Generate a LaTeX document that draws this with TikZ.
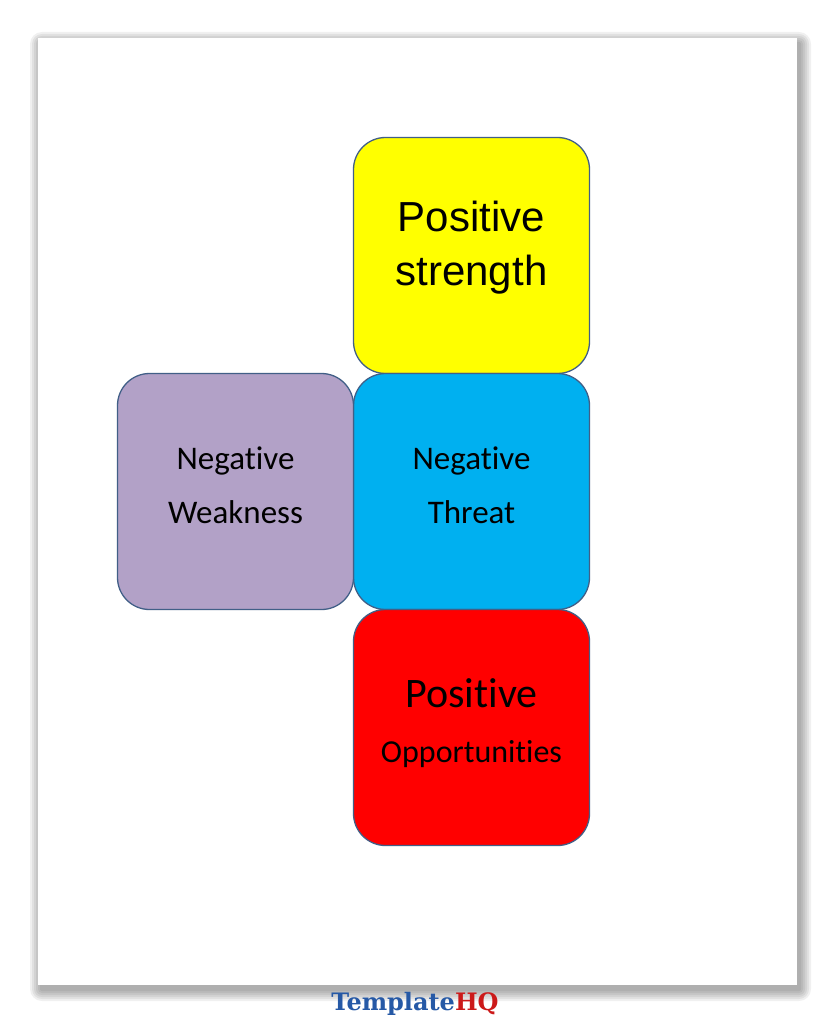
\documentclass[tikz,border=0pt]{standalone}
\usepackage{fontspec}
\setmainfont[Ligatures=NoCommon]{Carlito}
\newfontfamily\arialf{Liberation Sans}
\newfontfamily\logof{DejaVu Serif}
\definecolor{edge}{RGB}{65,95,135}
\begin{document}
\begin{tikzpicture}[x=1pt,y=-1pt,
  box/.style={draw=edge, line width=1.3pt, rounded corners=32pt, minimum width=236pt, minimum height=236pt, inner sep=0pt},
  txt/.style={align=center, inner sep=0pt}]
\useasboundingbox (0,0) rectangle (835,1024);
\fill[white] (0,0) rectangle (835,1024);
\foreach \i in {12,10,8,6,4,2}{
  \fill[black,opacity=0.06,rounded corners=\i pt] (38-\i+4,38-\i+6) rectangle (797+\i+2,985+\i+4);
}
\fill[white] (38,38) rectangle (797,985);
\node[box, fill={rgb,255:red,255;green,255;blue,0}] (s) at (471.5,255.5) {};
\node[box, fill={rgb,255:red,0;green,176;blue,240}] (t) at (471.5,491.5) {};
\node[box, fill={rgb,255:red,178;green,161;blue,199}] (w) at (235.5,491.5) {};
\node[box, fill={rgb,255:red,255;green,0;blue,0}] (o) at (471.5,727.5) {};
\node[txt, font=\arialf\fontsize{42}{54}\selectfont] (st) at (471.5,248) {Positive\\strength};
\node[txt, font=\fontsize{33}{54}\selectfont] (tt) at (471.5,485) {Negative\\Threat};
\node[txt, font=\fontsize{33}{54}\selectfont] (wt) at (235.5,485) {Negative\\Weakness};
\node[txt, font=\fontsize{42}{42}\selectfont] (ot1) at (471.5,693) {Positive};
\node[txt, font=\fontsize{32}{32}\selectfont] (ot2) at (471.5,754) {Opportunities};
\node[font=\logof\bfseries\fontsize{24}{28}\selectfont, inner sep=0pt] (logo) at (415,1004) {\textcolor[rgb]{0.15,0.35,0.65}{Template}\textcolor[rgb]{0.8,0.1,0.1}{HQ}};
\end{tikzpicture}
\end{document}
